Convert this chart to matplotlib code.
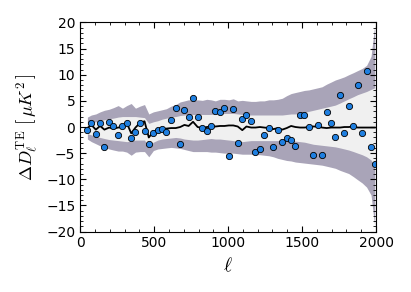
import matplotlib
matplotlib.use("Agg")
import matplotlib.pyplot as plt
import numpy as np
from matplotlib.ticker import MultipleLocator

plt.rcParams['mathtext.fontset'] = 'cm'
plt.rcParams['font.size'] = 10

# bin centres in multipole
ell = [49, 76, 106, 135, 164, 196, 225, 257, 286, 315, 345, 374, 405, 435, 464,
       495, 525, 554, 583, 615, 646, 676, 705, 733, 763, 794, 826, 856, 885, 914,
       945, 975, 1005, 1035, 1065, 1096, 1124, 1156, 1185, 1215, 1244, 1276, 1306,
       1336, 1366, 1396, 1426, 1455, 1486, 1516, 1546, 1576, 1606, 1635, 1666,
       1696, 1725, 1757, 1786, 1815, 1847, 1876, 1906, 1936, 1966, 1991]

# residual data points
resid = [-0.57, 0.82, -1.34, 0.7, -3.9, 0.96, 0.19, -1.47, 0.19, 0.77, -2.04,
         -0.96, 0.77, -0.77, -3.3, -1.2, -0.57, -0.3, -0.9, 1.3, 3.55, -3.25,
         3.25, 1.85, 5.55, 1.88, -0.26, -0.83, 0.25, 3.03, 2.8, 3.57, -5.5, 3.47,
         -3.13, 1.53, 2.36, 1.12, -4.87, -4.23, -1.6, -0.2, -3.9, -0.5, -2.87,
         -2.04, -2.49, -3.57, 2.24, 2.3, -0.06, -5.36, 0.41, -5.36, 2.95, 0.73,
         -1.95, 6.2, -1.17, 4.08, 0.25, 8.0, -1.2, 10.7, -3.8, -7.05]

# mean of simulations
mean = [-0.2, 0.4, -0.5, 0.2, -0.5, -0.1, -0.3, -0.1, 0.0, 0.8, -1.2, -0.1, 0.8,
        1.1, -2.0, -0.9, -0.5, -0.4, -0.3, -0.2, -0.2, 0.0, 0.4, 0.2, 1.0, 0.0,
        -0.2, 0.0, 0.1, 0.1, 0.2, 0.2, 0.3, 0.3, 0.1, -0.6, 0.1, -0.1, -0.1, 0.0,
        -0.1, -0.2, -0.4, -0.2, -0.5, -0.2, 0.2, 0.0, -0.1, -0.1, 0.0, 0.1, 0.1,
        -0.1, -0.2, -0.1, -0.1, -0.1, 0.0, 0.0, 0.1, -0.1, -0.1, -0.1, -0.1, -0.1]

# band edges: outer upper, inner upper, inner lower, outer lower
out_hi = [1.9, 2.3, 2.5, 2.9, 3.2, 3.4, 3.7, 4.1, 3.6, 4.1, 4.5, 3.6, 4.0, 4.3,
          2.5, 2.9, 3.1, 3.3, 3.5, 4.0, 4.3, 4.8, 5.0, 5.2, 5.1, 5.2, 5.1, 5.3,
          5.2, 5.0, 5.3, 5.3, 5.2, 5.4, 5.0, 5.1, 5.0, 4.9, 4.9, 5.0, 5.0, 5.2,
          5.2, 5.3, 5.5, 6.0, 6.4, 6.6, 6.8, 7.0, 7.1, 7.3, 7.5, 7.7, 8.2, 8.6,
          9.0, 9.3, 9.6, 10.0, 10.4, 10.8, 11.2, 11.8, 13.5, 19.5]
in_hi = [0.8, 0.9, 1.0, 1.2, 1.4, 1.6, 1.7, 1.9, 2.0, 2.0, 2.0, 2.0, 1.9, 1.8,
         0.7, 1.0, 1.2, 1.5, 1.7, 1.9, 2.0, 2.2, 2.3, 2.4, 2.4, 2.4, 2.4, 2.4,
         2.4, 2.5, 2.5, 2.6, 2.6, 2.6, 2.5, 2.4, 2.3, 2.3, 2.3, 2.3, 2.3, 2.3,
         2.3, 2.3, 2.3, 2.4, 2.5, 2.5, 2.6, 2.8, 3.0, 3.2, 3.4, 3.6, 3.8, 4.0,
         4.2, 4.6, 5.0, 5.4, 5.8, 6.2, 6.5, 6.8, 7.2, 7.5]
in_lo = [-1.3, -1.5, -1.8, -2.0, -2.2, -2.4, -2.5, -2.6, -2.7, -2.8, -2.7, -2.5,
         -2.5, -2.5, -3.8, -2.9, -2.5, -2.3, -2.2, -2.1, -2.0, -2.1, -2.3, -2.4,
         -2.5, -2.5, -2.4, -2.3, -2.2, -2.3, -2.3, -2.4, -2.5, -2.6, -2.8, -2.8,
         -2.7, -2.6, -2.6, -2.6, -2.6, -2.6, -2.6, -2.6, -2.6, -2.6, -2.7, -2.7,
         -2.8, -2.9, -3.1, -3.3, -3.4, -3.5, -3.6, -3.7, -3.8, -4.0, -4.2, -4.4,
         -4.7, -5.0, -5.3, -5.7, -6.3, -7.5]
out_lo = [-2.3, -2.8, -3.2, -3.6, -3.9, -4.2, -4.4, -4.6, -4.6, -4.8, -5.4, -4.8,
          -4.7, -4.7, -5.7, -4.5, -4.2, -4.1, -4.0, -3.9, -4.0, -4.1, -4.3, -4.5,
          -4.7, -4.7, -4.7, -4.7, -4.8, -4.8, -4.9, -5.0, -5.0, -5.0, -5.1, -5.2,
          -5.2, -5.2, -5.3, -5.3, -5.4, -5.5, -5.7, -6.0, -6.2, -6.4, -6.5, -6.7,
          -6.8, -6.9, -7.0, -7.1, -7.2, -7.3, -7.5, -7.7, -7.9, -8.3, -8.6, -8.9,
          -9.5, -10.1, -10.7, -11.5, -13.0, -19.0]

fig = plt.figure(figsize=(4.11, 2.92), dpi=100)
ax = fig.add_axes([0.195, 0.207, 0.72, 0.716])

ax.fill_between(ell, out_lo, out_hi, color='#a9a4b8', lw=0)
ax.fill_between(ell, in_lo, in_hi, color='#f0f0f0', lw=0)
ax.plot(ell, mean, color='k', lw=1.3)
ax.plot(ell, resid, 'o', ms=4.5, mfc='#1f7fe0', mec='k', mew=0.6)

ax.set_xlim(0, 2000)
ax.set_ylim(-20, 20)
ax.xaxis.set_major_locator(MultipleLocator(500))
ax.xaxis.set_minor_locator(MultipleLocator(100))
ax.yaxis.set_major_locator(MultipleLocator(5))
ax.yaxis.set_minor_locator(MultipleLocator(1))
ax.tick_params(which='both', direction='in', top=True, right=True)
ax.tick_params(which='major', length=4.5, width=0.8)
ax.tick_params(which='minor', length=2.2, width=0.6)

ax.set_xlabel(r'$\ell$', fontsize=14)
ax.set_ylabel(r'$\Delta D_\ell^{\rm TE}\ \left[\,\mu K^2\,\right]$', fontsize=13)

fig.savefig('out.png', dpi=100)
